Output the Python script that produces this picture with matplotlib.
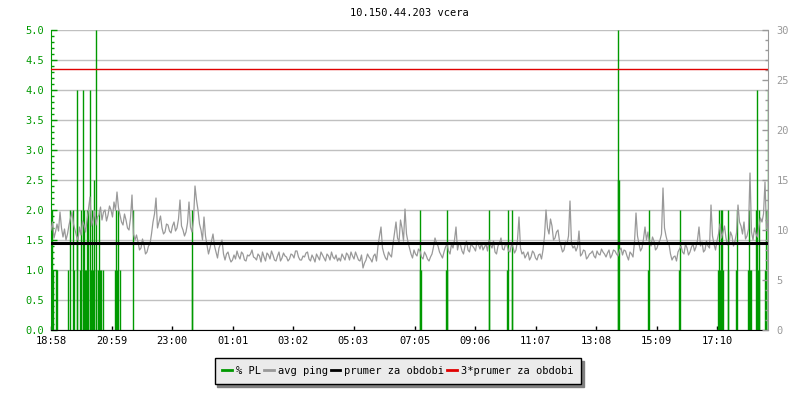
import numpy as np
import matplotlib
matplotlib.use('Agg')
import matplotlib.pyplot as plt
from matplotlib.lines import Line2D

plt.rcParams['font.family'] = ['DejaVu Sans Mono']
plt.rcParams['font.size'] = 7.5

title = '10.150.44.203 vcera'

# x ticks: minutes since 18:58
tick_min = [0, 121, 242, 363, 484, 605, 727, 848, 969, 1090, 1211, 1332]
tick_lab = ['18:58', '20:59', '23:00', '01:01', '03:02', '05:03',
            '07:05', '09:06', '11:07', '13:08', '15:09', '17:10']

# avg ping (ms), one sample every 6 minutes starting 18:58
ping_step = 6
ping = [
    10.0, 9.2, 10.6, 11.8, 9.3, 9.0, 10.5, 11.8, 10.0, 9.0,
    9.5, 10.5, 11.0, 13.3, 11.0, 10.5, 11.5, 11.0, 12.0, 11.5,
    12.0, 12.8, 13.8, 11.5, 10.5, 11.0, 10.0, 13.5, 9.0, 8.8,
    8.2, 8.5, 7.8, 8.6, 10.8, 13.2, 10.8, 10.2, 9.8, 10.5,
    9.7, 10.8, 10.2, 13.0, 10.0, 9.8, 12.8, 9.8,
    14.4, 12.0, 10.0, 11.3, 8.5, 8.2, 9.6, 7.8, 8.2, 9.0,
    7.0, 7.8, 6.8, 7.5, 7.9, 7.1, 7.6, 6.9, 7.4, 8.0,
    7.2, 7.6, 6.8, 7.3, 7.7, 7.1, 7.5, 6.9, 7.8, 7.2,
    7.4, 6.9, 7.6, 7.2, 7.9, 7.0, 7.4, 7.7, 7.1, 7.5,
    6.8, 7.3, 7.8, 7.2, 7.6, 7.0, 7.3, 7.5,
    7.2, 7.6, 7.0, 7.5, 7.8, 7.1, 7.4, 6.9, 6.2, 7.0,
    7.3, 6.8, 7.6, 8.4, 10.3, 7.6, 7.0, 7.5, 8.6, 10.8,
    8.8, 10.2, 12.1, 8.8, 7.6, 8.0, 7.4, 7.9, 7.1, 7.5,
    6.9, 7.6, 9.2, 8.4, 7.5, 7.8, 8.6, 7.6, 8.2, 10.3,
    8.7, 7.9, 8.4, 8.0, 8.6, 8.2, 8.8, 8.1,
    8.0, 8.6, 9.0, 8.2, 7.8, 8.4, 9.2, 8.0, 8.5, 7.8,
    8.3, 8.0, 11.3, 7.6, 7.2, 7.8, 7.3, 7.7, 7.0, 7.6,
    8.0, 12.0, 9.6, 10.4, 9.2, 10.0, 8.4, 8.0, 8.6, 12.9,
    8.2, 7.9, 9.9, 7.6, 7.9, 7.3, 7.7, 7.4, 7.9, 7.5,
    7.8, 7.3, 8.0, 7.5, 7.9, 7.4, 8.2, 8.0,
    7.4, 7.8, 7.3, 11.7, 8.6, 8.2, 10.3, 9.8, 8.4, 8.9,
    8.2, 9.0, 14.2, 9.4, 8.6, 7.0, 7.4, 7.8, 8.4, 7.6,
    8.2, 7.8, 8.6, 8.3, 10.3, 8.8, 8.0, 8.4, 12.5, 8.6,
    8.9, 10.6, 9.8, 9.2, 8.6, 9.4, 8.9, 12.5, 10.4, 10.8,
    9.4, 15.7, 9.0, 9.6, 10.4, 10.8, 14.8, 10.7,
]
# in-between samples (3 minutes after each sample above)
ping_mid = [
    10.8, 9.8, 9.9, 10.2, 10.1, 9.6, 11.2, 10.6, 9.4, 10.3,
    10.9, 9.8, 12.1, 10.4, 11.9, 11.3, 12.3, 11.8, 10.9, 12.4,
    11.3, 12.0, 12.2, 10.8, 11.6, 10.2, 11.2, 9.6, 9.5, 8.0,
    9.1, 7.6, 8.4, 9.6, 11.6, 10.2, 11.4, 9.6, 10.6, 9.9,
    10.4, 9.9, 11.1, 10.4, 9.4, 10.7, 10.3, 11.0,
    13.0, 10.6, 9.0, 9.4, 7.6, 8.9, 8.4, 7.2, 8.6, 7.6,
    7.6, 7.2, 7.0, 7.1, 7.4, 7.8, 7.0, 7.5, 7.6, 7.3,
    7.0, 7.4, 7.8, 6.9, 7.5, 7.9, 7.0, 7.4, 6.9, 7.7,
    7.3, 7.1, 7.5, 7.9, 7.3, 7.0, 7.3, 7.8, 6.9, 7.2,
    7.6, 7.0, 7.5, 6.9, 7.4, 7.8, 7.1, 6.9,
    6.9, 7.3, 7.7, 7.0, 7.4, 7.8, 7.0, 7.5, 6.7, 7.6,
    7.1, 7.4, 6.9, 9.4, 8.2, 7.2, 7.8, 7.3, 9.7, 9.2,
    11.0, 8.9, 9.6, 8.2, 7.2, 7.6, 8.1, 7.3, 7.8, 7.1,
    7.3, 8.3, 8.7, 7.8, 7.2, 8.3, 7.9, 8.6, 9.0, 8.0,
    8.5, 7.6, 8.9, 7.8, 8.4, 7.9, 8.5, 8.7,
    8.3, 7.9, 8.5, 8.9, 7.6, 8.7, 8.1, 8.6, 7.9, 8.6,
    7.7, 9.0, 8.2, 7.8, 7.5, 7.0, 7.9, 7.2, 7.5, 7.1,
    9.4, 10.2, 11.1, 9.0, 9.8, 8.9, 7.8, 8.8, 9.4, 8.6,
    8.4, 8.3, 7.4, 8.0, 7.1, 7.6, 7.9, 7.2, 7.6, 8.1,
    7.6, 7.7, 7.2, 8.0, 7.6, 8.0, 7.5, 7.9,
    7.0, 7.6, 8.8, 9.4, 7.9, 9.1, 9.0, 8.6, 9.3, 8.0,
    8.7, 9.6, 10.2, 8.8, 7.6, 7.3, 6.9, 8.1, 7.8, 8.6,
    7.5, 8.3, 7.9, 9.0, 8.4, 7.8, 8.9, 8.2, 9.4, 8.0,
    9.6, 9.2, 10.4, 8.5, 9.8, 8.4, 9.7, 10.8, 9.6, 9.1,
    10.1, 9.8, 10.2, 9.3, 11.2, 11.6, 10.1,
]
avg_ping = 8.7   # prumer za obdobi (ms)

# packet loss events (minute since 18:58, % PL); zero elsewhere
pl_min = [2, 4, 10, 12, 34, 38, 44, 46, 51, 52, 58, 60, 63, 64, 66, 68, 70,
          72, 74, 77, 78, 80, 82, 84, 86, 89, 90, 94, 96, 98, 100, 104,
          128, 130, 132, 134, 138, 164, 281, 282,
          737, 738, 740, 789, 791, 792, 875, 876, 912, 913, 921, 922,
          1133, 1134, 1135, 1194, 1195, 1256, 1257,
          1334, 1336, 1337, 1339, 1340, 1342, 1344, 1353, 1354, 1370, 1371,
          1394, 1396, 1398, 1400, 1410, 1411, 1413, 1415, 1416,
          1428, 1430, 1433, 1434]
pl_val = [2.0, 1.0, 1.0, 1.0, 1.0, 2.0, 2.0, 1.0, 4.0, 2.0, 1.0, 2.0, 4.0, 1.0, 2.0, 1.0, 1.0,
          2.0, 2.0, 4.0, 1.0, 1.0, 2.0, 1.0, 2.5, 5.0, 1.0, 1.0, 2.0, 1.0, 1.0, 1.0,
          1.0, 2.0, 1.0, 2.0, 1.0, 2.0, 1.0, 2.0,
          1.0, 2.0, 1.0, 1.0, 2.0, 1.0, 2.0, 1.0, 1.0, 2.0, 2.0, 1.0,
          2.5, 5.0, 2.5, 1.0, 2.0, 1.0, 2.0,
          1.0, 2.0, 1.0, 2.0, 1.0, 2.0, 1.0, 1.0, 2.0, 1.0, 2.0,
          1.0, 2.0, 1.0, 1.0, 2.0, 4.0, 1.0, 2.0, 1.0,
          1.0, 2.0, 4.0, 2.0]

green = '#009900'
grey = '#999999'
red = '#e00000'

# merge the two ping lists into one 3-minute series
ping_all = np.empty(2 * len(ping) - 1)
ping_all[0::2] = ping
ping_all[1::2] = ping_mid
ping_t = np.arange(len(ping_all)) * (ping_step / 2.)
t_end = ping_t[-1]

fig = plt.figure(figsize=(8, 4), dpi=100)
ax = fig.add_axes([51/800., 70/400., 717/800., 300/400.])
ax2 = ax.twinx()

# left axis: % PL
ax.vlines(pl_min, 0, pl_val, color=green, lw=1.0)
ax.set_ylim(0, 5)
ax.set_xlim(0, t_end)
ax.set_yticks(np.arange(0, 5.01, 0.5))
ax.set_yticks(np.arange(0, 5.01, 0.1), minor=True)
ax.set_yticklabels(['%.1f' % v for v in np.arange(0, 5.01, 0.5)])
ax.set_xticks(tick_min)
ax.set_xticklabels(tick_lab)
ax.yaxis.grid(True, color='#c0c0c0', lw=1.0)
ax.set_axisbelow(True)
ax.tick_params(axis='y', which='major', direction='in', length=4, width=1,
               color=green, labelcolor=green, pad=5)
ax.tick_params(axis='y', which='minor', direction='in', length=2.5, width=1, color=green)
ax.tick_params(axis='x', direction='in', length=3, width=1, color='black', pad=4)
ax.spines['left'].set_color(green)
ax.spines['top'].set_visible(False)
ax.spines['right'].set_visible(False)

# right axis: ping (ms)
ax2.plot(ping_t, ping_all, color=grey, lw=0.9)
ax2.axhline(avg_ping, color='black', lw=2.2)
ax2.axhline(3 * avg_ping, color=red, lw=1.0)
ax2.set_ylim(0, 30)
ax2.set_yticks(np.arange(0, 31, 5))
ax2.set_yticks(np.arange(0, 31, 1), minor=True)
ax2.tick_params(axis='y', which='major', direction='in', length=4, width=1,
                color=grey, labelcolor=grey, pad=6)
ax2.tick_params(axis='y', which='minor', direction='in', length=2.5, width=1, color=grey)
ax2.spines['right'].set_color(grey)
ax2.spines['top'].set_visible(False)
ax2.spines['left'].set_visible(False)
ax2.spines['bottom'].set_visible(False)

fig.text(409.5/800., 1 - 13/400., title, ha='center', va='center')

handles = [Line2D([], [], color=green, lw=2),
           Line2D([], [], color=grey, lw=2),
           Line2D([], [], color='black', lw=2),
           Line2D([], [], color=red, lw=2)]
labels = ['% PL', 'avg ping', 'prumer za obdobi', '3*prumer za obdobi']
leg = fig.legend(handles, labels, loc='center', bbox_to_anchor=(398/800., 1 - 371/400.),
                 ncol=4, frameon=True, fancybox=False,
                 shadow={'color': '#808080', 'alpha': 1.0},
                 handlelength=0.9, handletextpad=0.4, columnspacing=0.3,
                 borderpad=0.75, borderaxespad=0)
leg.get_frame().set_facecolor('#ebebeb')
leg.get_frame().set_edgecolor('black')
leg.get_frame().set_linewidth(1.0)

fig.savefig('out.png', dpi=100)
